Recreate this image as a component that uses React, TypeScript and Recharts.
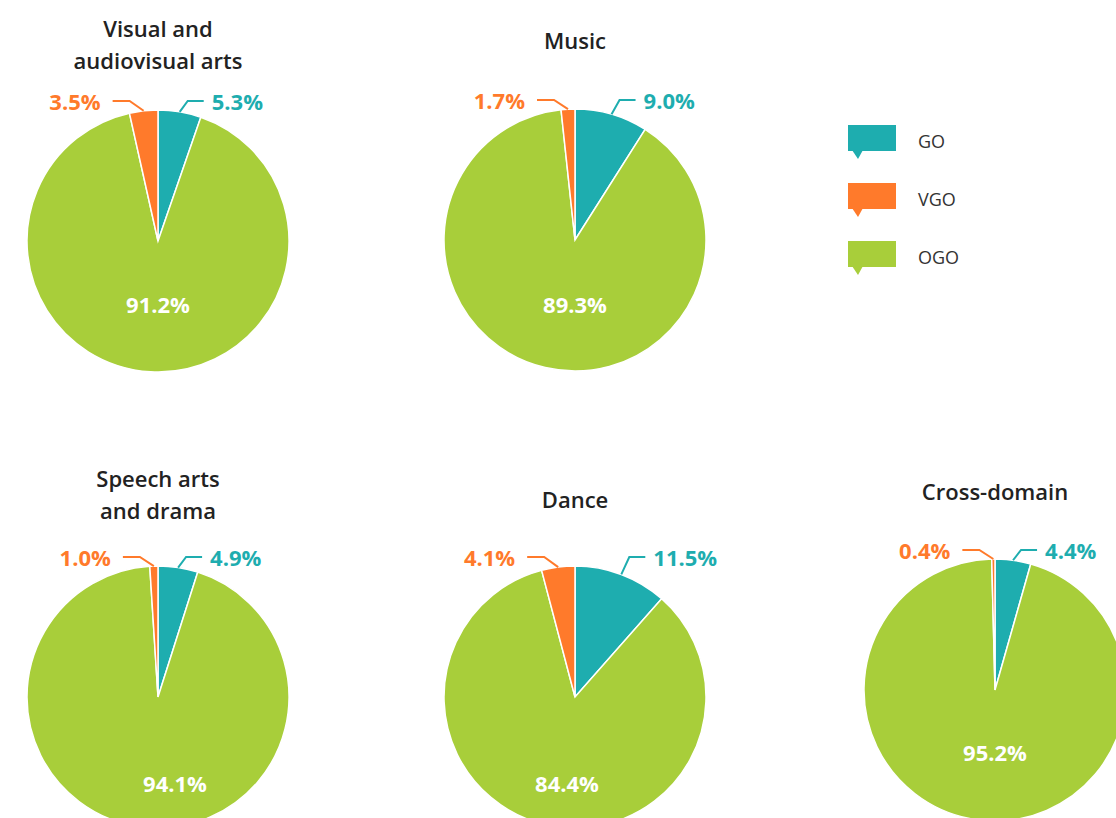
import React from 'react';
import { PieChart, Pie, Cell } from 'recharts';

// shares per domain, in %
const domains = ['Visual and\naudiovisual arts', 'Music', 'Speech arts\nand drama', 'Dance', 'Cross-domain'];
const goShares = [5.3, 9.0, 4.9, 11.5, 4.4];
const vgoShares = [3.5, 1.7, 1.0, 4.1, 0.4];
const ogoShares = [91.2, 89.3, 94.1, 84.4, 95.2];
const seriesNames = ['GO', 'VGO', 'OGO'];

const COLORS: Record<string, string> = { GO: '#1eadaf', VGO: '#ff7a2b', OGO: '#a8ce3a' };
const FONT = '"Open Sans", "Noto Sans", sans-serif';
const RADIAN = Math.PI / 180;
const RADIUS = 131;

// where each pie sits on the page, and where its title / inner label go
const layout = [
  { cx: 158, cy: 241, titleTop: 12, innerDx: 0, innerDy: 63 },
  { cx: 575, cy: 240, titleTop: 24, innerDx: 0, innerDy: 64 },
  { cx: 158, cy: 697, titleTop: 462, innerDx: 17, innerDy: 86 },
  { cx: 575, cy: 697, titleTop: 483, innerDx: -8, innerDy: 86 },
  { cx: 995, cy: 690, titleTop: 475, innerDx: 0, innerDy: 62 },
];

const makeLabel = (chartIdx: number) => (props: any) => {
  const { cx, cy, midAngle, outerRadius } = props;
  const name = props.payload?.name ?? props.name;
  const value = props.payload?.value ?? props.value;
  const text = `${value.toFixed(1)}%`;
  const lay = layout[chartIdx];
  if (name === 'OGO') {
    return (
      <text x={cx + lay.innerDx} y={cy + lay.innerDy} fill="#fff" textAnchor="middle" dominantBaseline="central"
        fontFamily={FONT} fontWeight={700} fontSize={22}>
        {text}
      </text>
    );
  }
  const px = cx + Math.cos(-midAngle * RADIAN) * outerRadius;
  const py = cy + Math.sin(-midAngle * RADIAN) * outerRadius;
  const rowY = cy - outerRadius - 9;
  const dir = name === 'GO' ? 1 : -1;
  const kneeX = px + dir * (name === 'GO' ? 8 : 14);
  const endX = kneeX + dir * (name === 'GO' ? 16 : 17);
  const textX = endX + dir * (name === 'GO' ? 8 : 12);
  return (
    <g>
      <polyline points={`${px},${py} ${kneeX},${rowY} ${endX},${rowY}`} fill="none" stroke={COLORS[name]} strokeWidth={2} />
      <text x={textX} y={rowY} fill={COLORS[name]} textAnchor={dir > 0 ? 'start' : 'end'} dominantBaseline="central"
        fontFamily={FONT} fontWeight={700} fontSize={22}>
        {text}
      </text>
    </g>
  );
};

function LegendMarker({ color }: { color: string }) {
  return (
    <svg width={48} height={35} style={{ display: 'block' }}>
      <rect x={0} y={0} width={48} height={26} fill={color} />
      <polygon points="4,25 15,25 10,34" fill={color} />
    </svg>
  );
}

export default function App() {
  return (
    <div style={{ position: 'absolute', left: 0, top: 0, width: 1116, height: 818, overflow: 'hidden', background: '#fff' }}>
      <PieChart width={1116} height={818} margin={{ top: 0, right: 0, bottom: 0, left: 0 }}>
        {domains.map((d, i) => {
          // clockwise from 12 o'clock: GO, OGO, VGO
          const data = [
            { name: 'GO', value: goShares[i] },
            { name: 'OGO', value: ogoShares[i] },
            { name: 'VGO', value: vgoShares[i] },
          ];
          return (
            <Pie key={d} data={data} dataKey="value" nameKey="name" cx={layout[i].cx} cy={layout[i].cy}
              outerRadius={RADIUS} startAngle={90} endAngle={-270} stroke="#fff" strokeWidth={1.5}
              label={makeLabel(i)} labelLine={false} isAnimationActive={false}>
              {data.map((s) => (
                <Cell key={s.name} fill={COLORS[s.name]} />
              ))}
            </Pie>
          );
        })}
      </PieChart>

      {/* titles */}
      {domains.map((d, i) => (
        <div key={d} style={{
          position: 'absolute', left: layout[i].cx - 150, top: layout[i].titleTop, width: 300,
          textAlign: 'center', whiteSpace: 'pre-line', fontFamily: FONT, fontWeight: 600,
          fontSize: 22, lineHeight: '32px', color: '#222',
        }}>
          {d}
        </div>
      ))}

      {/* legend */}
      <div style={{ position: 'absolute', left: 848, top: 125 }}>
        {seriesNames.map((n) => (
          <div key={n} style={{ display: 'flex', alignItems: 'flex-start', height: 58 }}>
            <LegendMarker color={COLORS[n]} />
            <span style={{ marginLeft: 22, fontFamily: FONT, fontSize: 18, lineHeight: '34px', color: '#333', marginTop: -1 }}>{n}</span>
          </div>
        ))}
      </div>
    </div>
  );
}
